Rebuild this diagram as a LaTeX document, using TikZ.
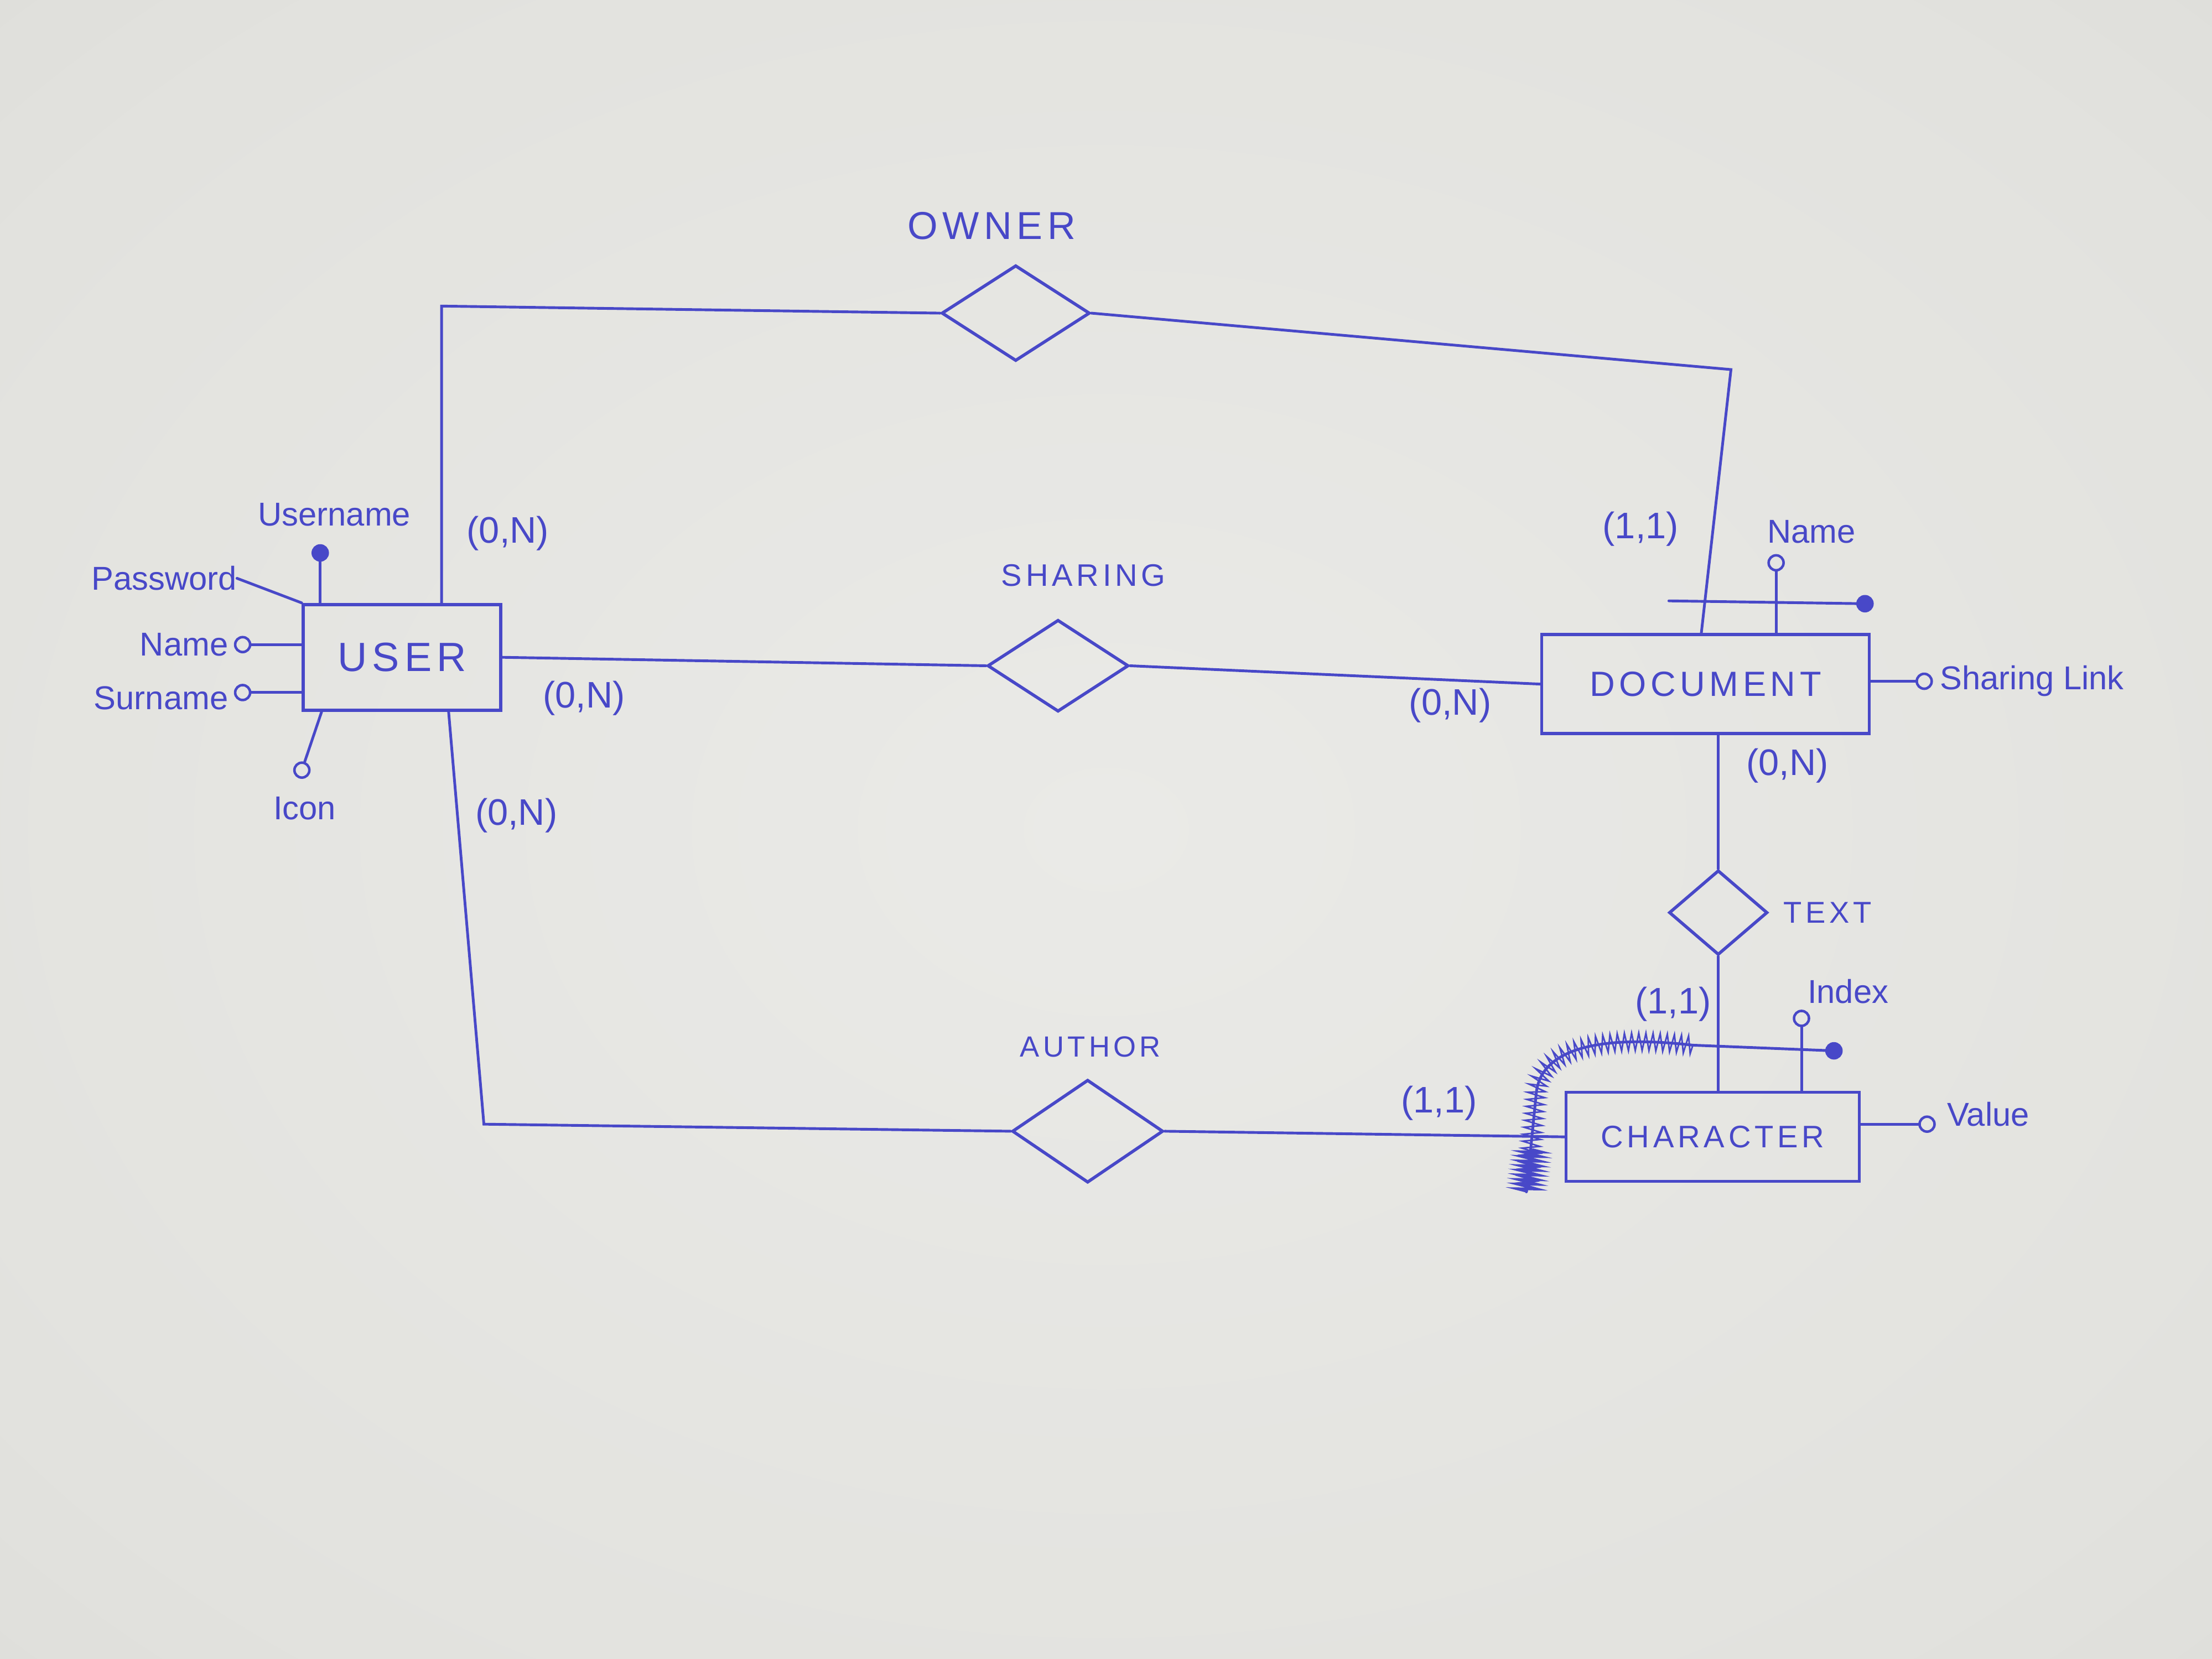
\documentclass[tikz,border=0pt]{standalone}
\usepackage{fontspec}
\setmainfont{Liberation Sans}
\newfontfamily\capsfont[LetterSpace=12]{Liberation Sans}
\usetikzlibrary{shapes.geometric,decorations.pathmorphing,calc}
\definecolor{ink}{RGB}{72,72,200}
\definecolor{pin}{RGB}{234,234,231}
\definecolor{pmid}{RGB}{226,226,222}
\definecolor{pout}{RGB}{204,204,200}
\pgfdeclareradialshading{paper}{\pgfpoint{0bp}{0bp}}{color(0bp)=(pin); color(30bp)=(pmid); color(72bp)=(pout)}
\begin{document}
\begin{tikzpicture}[x=0.0255cm,y=-0.0255cm,
  entity/.style={draw=ink,line width=1.6pt,rectangle,inner sep=0pt,text=ink},
  rel/.style={draw=ink,line width=1.6pt,diamond,inner sep=0pt},
  conn/.style={draw=ink,line width=1.4pt,line cap=round},
  attr/.style={circle,draw=ink,line width=1.3pt,inner sep=0pt,minimum size=0.27cm},
  keyattr/.style={attr,fill=ink},
  lbl/.style={text=ink,inner sep=0pt},
  card/.style={lbl,font=\fontsize{19}{22}\selectfont},
  alabel/.style={lbl,font=\fontsize{17}{20}\selectfont},
  hatch/.style={draw=ink,line width=0.8pt,decorate,decoration={zigzag,segment length=3.6pt,amplitude=4.5pt}}]

\shade[shading=paper] (0,0) rectangle (1568,1176);
\useasboundingbox (0,0) rectangle (1568,1176);

% entities
\node[entity,minimum width=3.57cm,minimum height=1.91cm,font={\capsfont\fontsize{21}{24}\selectfont}] (USER) at (285,466) {USER};
\node[entity,minimum width=5.92cm,minimum height=1.79cm,font={\capsfont\fontsize{18}{21}\selectfont}] (DOCUMENT) at (1209,485) {DOCUMENT};
\node[entity,minimum width=5.30cm,minimum height=1.61cm,font={\capsfont\fontsize{16}{19}\selectfont}] (CHARACTER) at (1214,806) {CHARACTER};

% relationships
\node[rel,minimum width=2.68cm,minimum height=1.73cm] (OWNER) at (720,222) {};
\node[rel,minimum width=2.55cm,minimum height=1.66cm] (SHARING) at (750,472) {};
\node[rel,minimum width=1.78cm,minimum height=1.53cm] (TEXT) at (1218,647) {};
\node[rel,minimum width=2.73cm,minimum height=1.86cm] (AUTHOR) at (771,802) {};

\node[lbl,font={\capsfont\fontsize{20}{23}\selectfont}] (lOWNER) at (703,160) {OWNER};
\node[lbl,font={\capsfont\fontsize{16}{19}\selectfont}] (lSHARING) at (768,408) {SHARING};
\node[lbl,font={\capsfont\fontsize{15}{18}\selectfont}] (lAUTHOR) at (773,742) {AUTHOR};
\node[lbl,font={\capsfont\fontsize{15.5}{18}\selectfont},anchor=west] (lTEXT) at (1264,647) {TEXT};

% owner
\coordinate (ow1) at (313,217);
\coordinate (ow2) at (1227,262);
\coordinate (ow3) at (1206,450);
\draw[conn] (USER.north -| ow1) -- (ow1) -- (OWNER.west);
\draw[conn] (OWNER.east) -- (ow2) -- (ow3 |- DOCUMENT.north);

% sharing
\draw[conn] (USER.east) -- (SHARING.west);
\draw[conn] (SHARING.east) -- (DOCUMENT.west);

% author
\coordinate (au0) at (318,503);
\coordinate (au1) at (343,797);
\draw[conn] (au0 |- USER.south) -- (au1) -- (AUTHOR.west);
\draw[conn] (AUTHOR.east) -- (CHARACTER.west);

% text
\draw[conn] (DOCUMENT.south -| TEXT.north) -- (TEXT.north);
\draw[conn] (TEXT.south) -- (TEXT.south |- CHARACTER.north);

% cardinalities
\node[card] (c1) at (360,378) {(0,N)};
\node[card] (c2) at (1163,375) {(1,1)};
\node[card] (c3) at (414,495) {(0,N)};
\node[card] (c4) at (1028,500) {(0,N)};
\node[card] (c5) at (1267,543) {(0,N)};
\node[card] (c6) at (366,578) {(0,N)};
\node[card] (c7) at (1186,712) {(1,1)};
\node[card] (c8) at (1020,782) {(1,1)};

% USER attributes
\node[keyattr] (aUsername) at (227,392) {};
\draw[conn] (aUsername) -- (aUsername |- USER.north);
\node[alabel] (lUsername) at (237,365) {Username};
\node[alabel,anchor=east] (lPassword) at (168,410) {Password};
\draw[conn] (lPassword.east) -- (USER.north west);
\node[attr] (aName) at (172,457) {};
\draw[conn] (aName) -- (aName -| USER.west);
\node[alabel,anchor=east] (lName) at (162,457) {Name};
\node[attr] (aSurname) at (172,491) {};
\draw[conn] (aSurname) -- (aSurname -| USER.west);
\node[alabel,anchor=east] (lSurname) at (162,495) {Surname};
\node[attr] (aIcon) at (214,546) {};
\coordinate (ic0) at (228,503);
\draw[conn] (aIcon) -- (ic0 |- USER.south);
\node[alabel] (lIcon) at (216,573) {Icon};

% DOCUMENT attributes
\node[attr] (aDocName) at (1259,399) {};
\draw[conn] (aDocName) -- (aDocName |- DOCUMENT.north);
\node[alabel] (lDocName) at (1284,377) {Name};
\coordinate (docIdStart) at (1183,426);
\node[keyattr] (docId) at (1322,428) {};
\draw[conn] (docIdStart) -- (docId);
\node[attr] (aLink) at (1364,483) {};
\draw[conn] (DOCUMENT.east |- aLink) -- (aLink);
\node[alabel,anchor=west] (lLink) at (1375,483) {Sharing Link};

% CHARACTER attributes
\node[attr] (aIndex) at (1277,722) {};
\draw[conn] (aIndex) -- (aIndex |- CHARACTER.north);
\node[alabel] (lIndex) at (1310,703) {Index};
\node[keyattr] (chId) at (1300,745) {};
\coordinate (h0) at (1200,741);
\coordinate (h1) at (1082,845);
\draw[conn] (chId) -- (h0) .. controls (1130,733) and (1092,745) .. (1089,775) -- (h1);
\draw[hatch] (h0) .. controls (1130,733) and (1092,745) .. (1089,775) -- (h1);
\draw[draw=ink,line width=1.4pt,decorate,decoration={zigzag,segment length=2.4pt,amplitude=5pt}] (1086,815) -- (h1);
\node[attr] (aValue) at (1366,797) {};
\draw[conn] (CHARACTER.east |- aValue) -- (aValue);
\node[alabel,anchor=west] (lValue) at (1380,790) {Value};

\end{tikzpicture}
\end{document}
